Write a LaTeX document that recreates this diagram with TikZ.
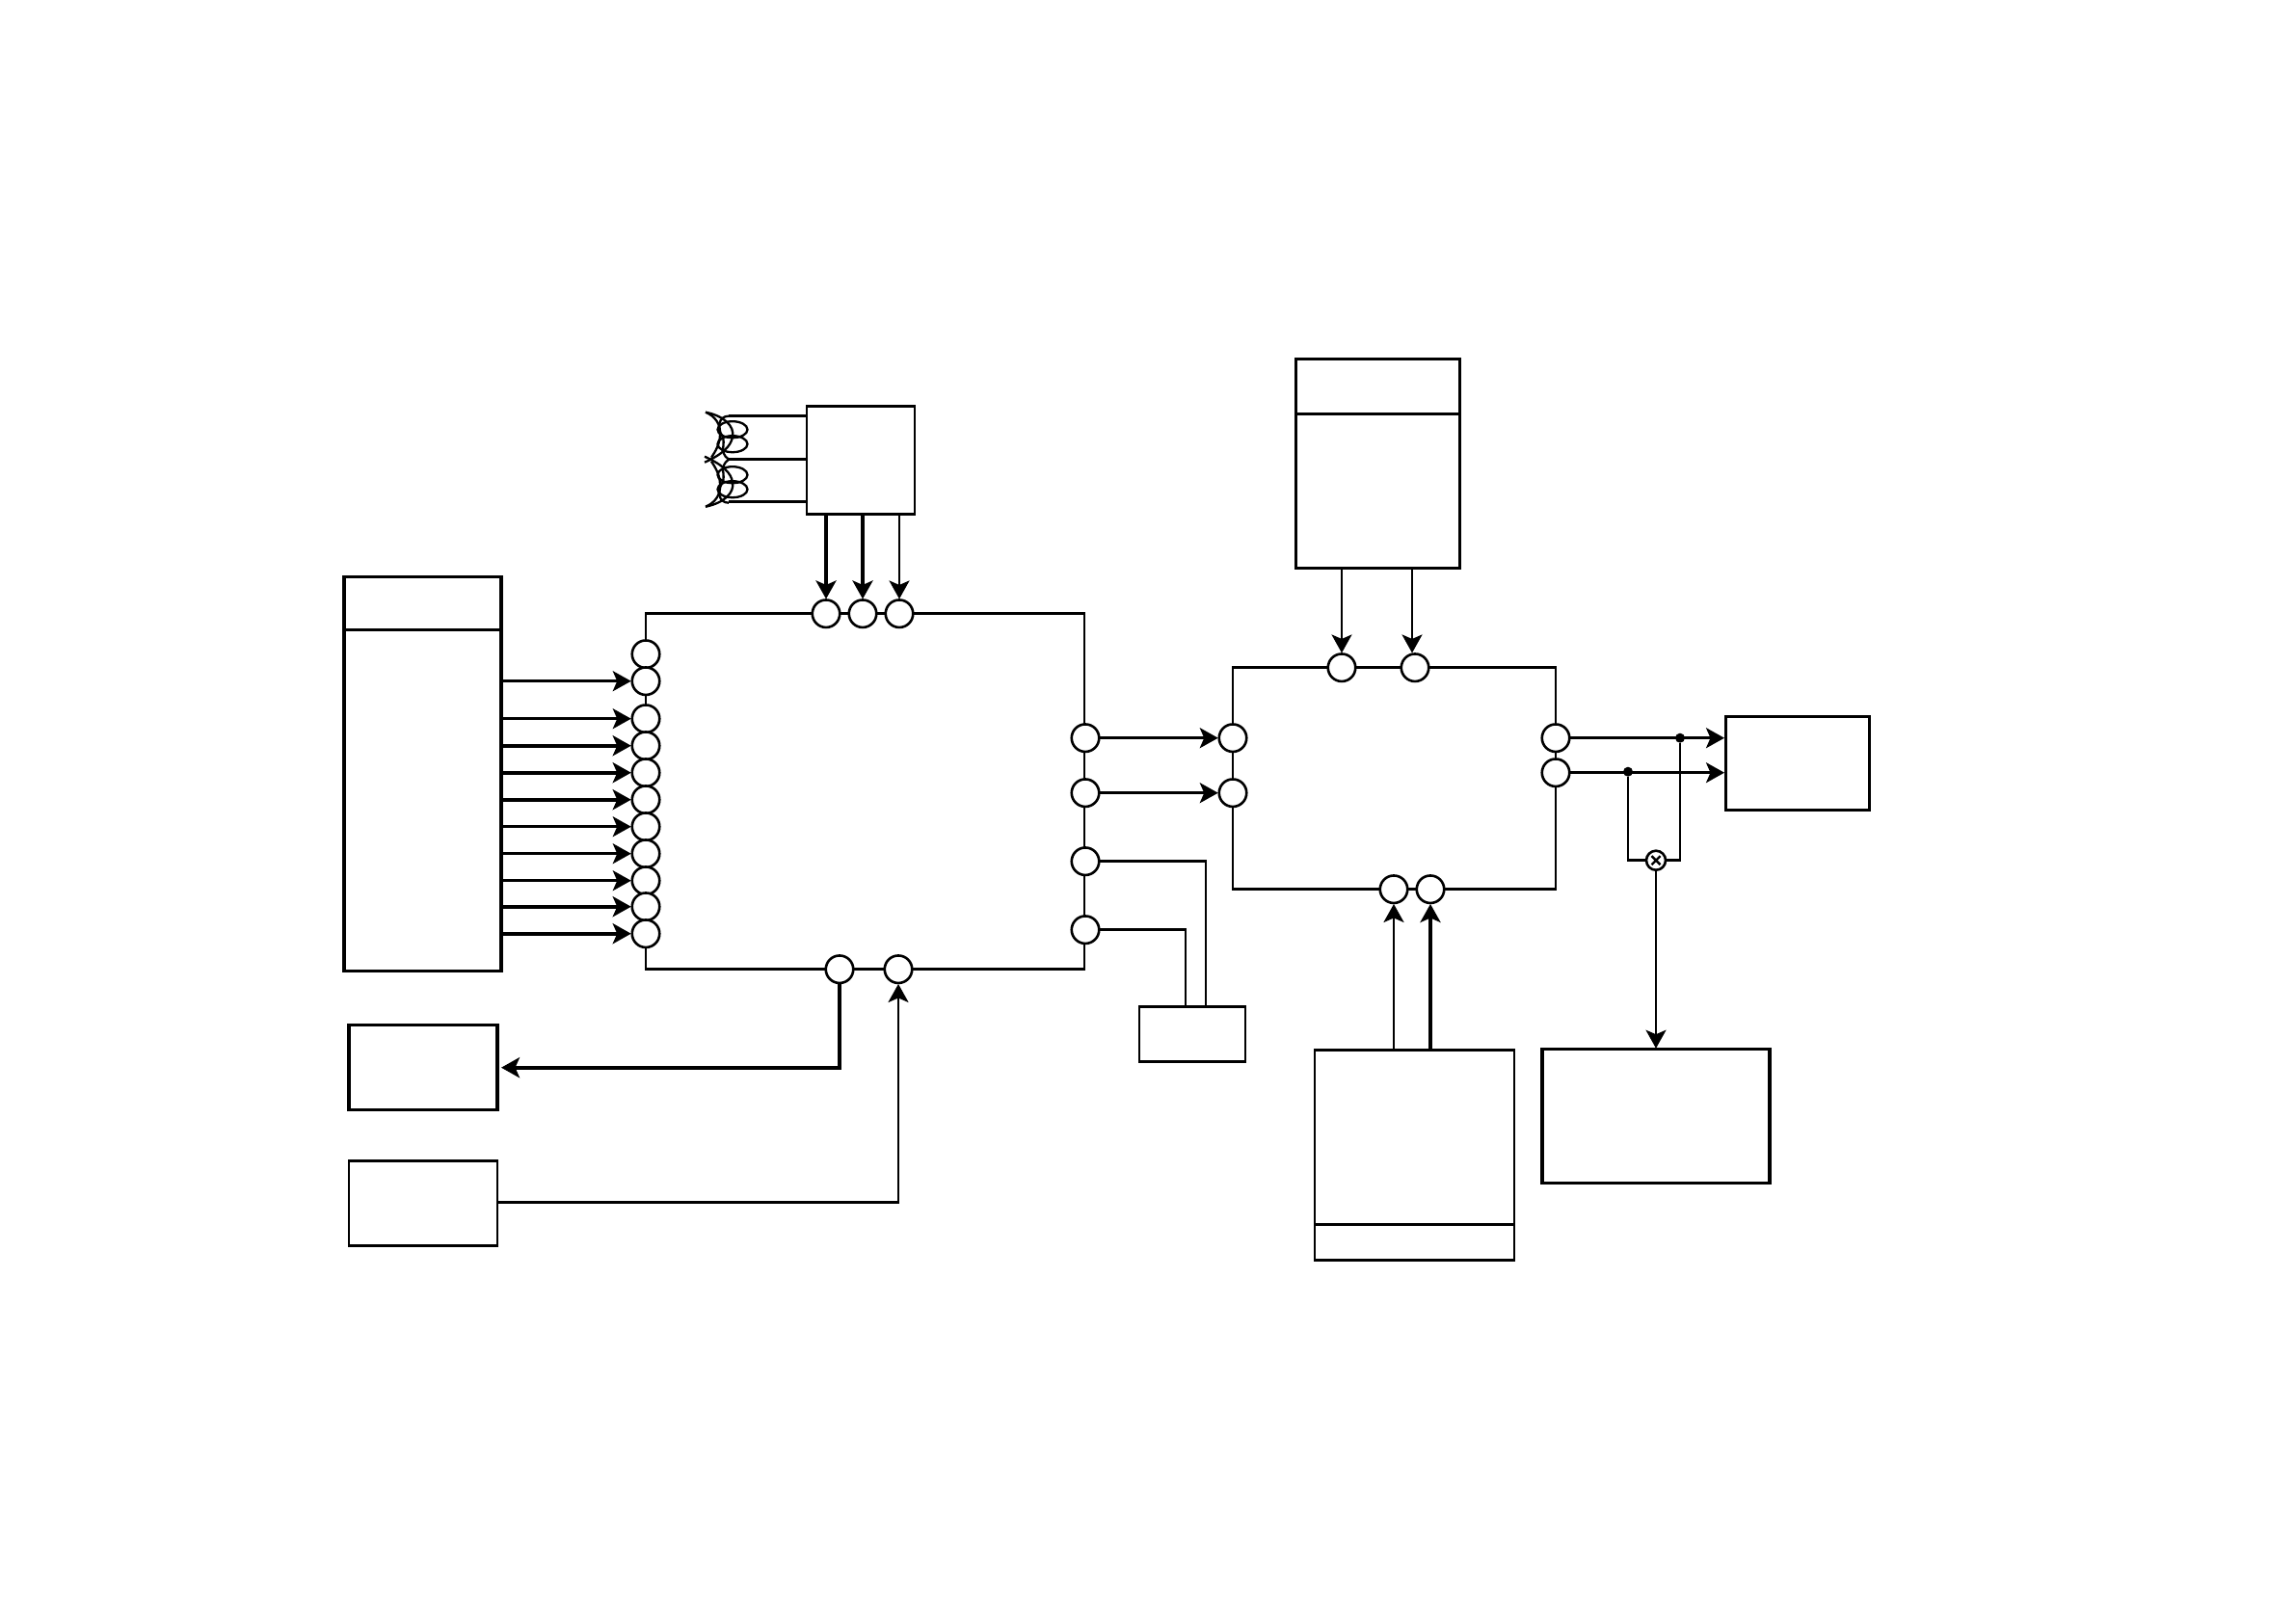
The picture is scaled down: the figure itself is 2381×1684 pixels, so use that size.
\documentclass[tikz,border=0pt]{standalone}
\usetikzlibrary{arrows.meta}
\tikzset{
  ln/.style={line width=2.6pt,line join=miter},
  thk/.style={line width=4pt},
  arr/.style={ln,-{Stealth[length=19pt,width=21pt,inset=4.5pt]},shorten >=1pt},
  blk/.style={draw,line width=2.6pt,inner sep=0pt,outer sep=0pt},
  port/.style={circle,draw,fill=white,line width=2.6pt,minimum size=28.5pt,inner sep=0pt,outer sep=0pt},
  dotn/.style={circle,fill=black,minimum size=10pt,inner sep=0pt,outer sep=0pt},
  mixn/.style={circle,draw,fill=white,line width=2.6pt,minimum size=20pt,inner sep=0pt,outer sep=0pt},
}
\newcommand\boxat[6][]{\node[blk,#1,minimum width={(#5-#3)*1pt},minimum height={(#6-#4)*1pt}] (#2) at ({(#3+#5)/2},{(#4+#6)/2}) {};}
\newcommand\ct{%
  \draw[line width=2.3pt] (732,427) .. controls (752,431) and (762,442) .. (760,452) .. controls (759,462) and (749,471) .. (731,479);
  \draw[line width=2.3pt] (732,427) .. controls (742,431) and (748,440) .. (747,450) .. controls (747,460) and (742,468) .. (738,474);
  \draw[line width=2.3pt] (756,431) .. controls (745,431) and (744,444) .. (749,451) .. controls (754,460) and (745,468) .. (756,476);
  \draw[line width=2.3pt] (760,445) ellipse [x radius=15.5,y radius=8.5];
  \draw[line width=2.3pt] (760,460) ellipse [x radius=15.5,y radius=8.5];
}
\begin{document}
\begin{tikzpicture}[x=1pt,y=-1pt]
\useasboundingbox (0,0) rectangle (2381,1684);
\begin{scope}[shift={(0,0.7)}]
% blocks
\boxat[line width=3.2pt]{src}{357}{598}{520}{1007}
\boxat{main}{670}{636}{1125}{1005}
\boxat[line width=2.8pt]{ctb}{837}{421}{949}{533}
\boxat[line width=3.2pt]{low}{362}{1063}{516}{1151}
\boxat{lowb}{362}{1204}{516}{1292}
\boxat[line width=2.8pt]{sm}{1182}{1044}{1292}{1101}
\boxat{sec}{1279}{692}{1614}{922}
\boxat[line width=3pt]{up}{1344}{372}{1514}{589}
\boxat{dn}{1364}{1089}{1571}{1307}
\boxat[line width=3pt]{rt}{1790}{743}{1939}{840}
\boxat[line width=3.4pt]{br}{1600}{1088}{1836}{1227}
% dividers
\coordinate (d1) at (0,653);
\coordinate (d2) at (0,429);
\coordinate (d3) at (0,1270);
\draw[ln] (src.west |- d1) -- (src.east |- d1);
\draw[ln] (up.west |- d2) -- (up.east |- d2);
\draw[ln] (dn.west |- d3) -- (dn.east |- d3);
% ports: main, left
\foreach \n/\y in {l0/678,l1/706,l2/745,l3/773,l4/801,l5/829,l6/857,l7/885,l8/913,l9/940,l10/968}
  \node[port] (\n) at (670,\y) {};
% ports: main, top and bottom
\node[port] (t1) at (857,636) {};
\node[port] (t2) at (895,636) {};
\node[port] (t3) at (933,636) {};
\node[port] (b1) at (871,1005) {};
\node[port] (b2) at (932,1005) {};
% ports: main, right
\node[port] (r1) at (1126,765) {};
\node[port] (r2) at (1126,822) {};
\node[port] (r3) at (1126,893) {};
\node[port] (r4) at (1126,964) {};
% ports: secondary
\node[port] (s1) at (1279,765) {};
\node[port] (s2) at (1279,822) {};
\node[port] (u1) at (1392,692) {};
\node[port] (u2) at (1468,692) {};
\node[port] (d1p) at (1446,922) {};
\node[port] (d2p) at (1484,922) {};
\node[port] (o1) at (1614,765) {};
\node[port] (o2) at (1614,801) {};
% junctions
\node[dotn] (j1) at (1743,765) {};
\node[dotn] (j2) at (1689,800) {};
\node[mixn] (mx) at (1718,892) {};
\draw[line width=2.4pt] ([shift={(-4.5,-4.5)}]mx.center) -- ([shift={(4.5,4.5)}]mx.center);
\draw[line width=2.4pt] ([shift={(-4.5,4.5)}]mx.center) -- ([shift={(4.5,-4.5)}]mx.center);
% source bus
\foreach \n in {l1,l2,l6,l7,l8}
  \draw[arr] (\n -| src.east) -- (\n);
\foreach \n in {l3,l4,l5,l9,l10}
  \draw[arr,thk] (\n -| src.east) -- (\n);
% CT block
\draw[arr,thk] (t1 |- ctb.south) -- (t1);
\draw[arr,thk] (t2 |- ctb.south) -- (t2);
\draw[arr] (t3 |- ctb.south) -- (t3);
% CT symbol
\coordinate (w1) at (756,431);
\coordinate (w2) at (756,476);
\coordinate (w3) at (756,520);
\draw[ln] (w1) -- (w1 -| ctb.west);
\draw[ln] (w2) -- (w2 -| ctb.west);
\draw[ln] (w3) -- (w3 -| ctb.west);
\ct
\begin{scope}[yshift=-952pt,yscale=-1]
\ct
\end{scope}
% bottom of main
\coordinate (k1) at (0,1107);
\draw[arr,thk,shorten >=4pt] (b1.south) -- (b1 |- k1) -- (k1 -| low.east);
\coordinate (k4) at (0,1247);
\draw[arr] (k4 -| lowb.east) -| (b2.south);
% main to secondary
\draw[arr] (r1) -- (s1);
\draw[arr] (r2) -- (s2);
\coordinate (k2) at (1251,0);
\coordinate (k3) at (1230,0);
\draw[ln] (r3) -- (r3 -| k2) -- (k2 |- sm.north);
\draw[ln] (r4) -- (r4 -| k3) -- (k3 |- sm.north);
% upper and lower blocks
\coordinate (a1) at (1465,0);
\draw[arr] (u1 |- up.south) -- (u1);
\draw[arr] (a1 |- up.south) -- (a1 |- u2.north);
\draw[arr] (d1p |- dn.north) -- (d1p);
\draw[arr,thk] (d2p |- dn.north) -- (d2p);
% outputs
\draw[arr] (o1) -- (o1 -| rt.west);
\draw[arr] (o2) -- (o2 -| rt.west);
\draw[ln] (j1) -- (j1 |- mx) -- (mx);
\draw[ln] (j2) -- (j2 |- mx) -- (mx);
\draw[arr] (mx) -- (mx |- br.north);
\end{scope}
\end{tikzpicture}
\end{document}
